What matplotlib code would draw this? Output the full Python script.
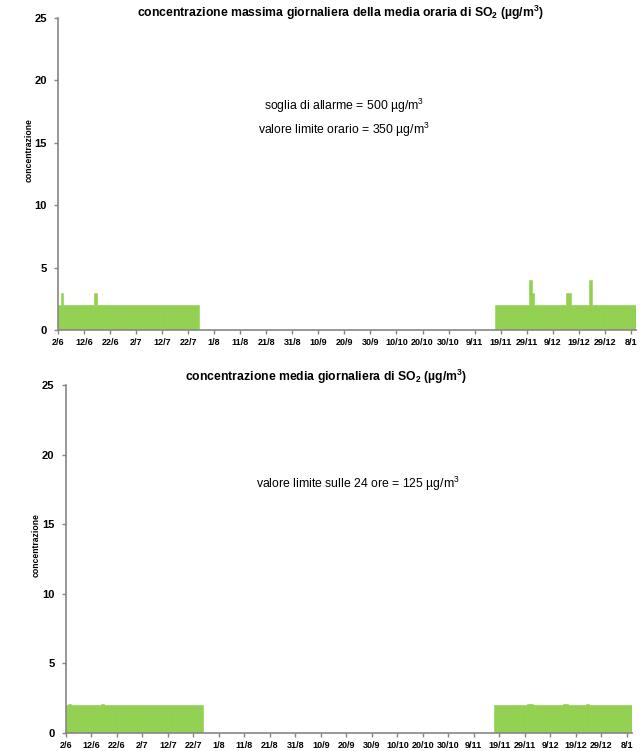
import matplotlib
matplotlib.use("Agg")
import matplotlib.pyplot as plt
import numpy as np
import pandas as pd

plt.rcParams['font.family'] = ['Liberation Sans', 'DejaVu Sans']
plt.rcParams['mathtext.fontset'] = 'custom'
plt.rcParams['mathtext.rm'] = 'Liberation Sans'
plt.rcParams['mathtext.it'] = 'Liberation Sans:italic'
plt.rcParams['mathtext.bf'] = 'Liberation Sans:bold'

# ---- data ----
start_date = "2023-06-02"
seg1_start = "2023-06-02"   # first block of measurements
seg2_start = "2023-11-17"   # second block of measurements

max_seg1 = [2, 3, 2, 2, 2, 2, 2, 2, 2, 2,
            2, 2, 2, 2, 3, 2, 2, 2, 2, 2,
            2, 2, 2, 2, 2, 2, 2, 2, 2, 2,
            2, 2, 2, 2, 2, 2, 2, 2, 2, 2,
            2, 2, 2, 2, 2, 2, 2, 2, 2, 2,
            2, 2, 2, 2]
max_seg2 = [2, 2, 2, 2, 2, 2, 2, 2, 2, 2,
            2, 2, 2, 4, 3, 2, 2, 2, 2, 2,
            2, 2, 2, 2, 2, 2, 2, 3, 3, 2,
            2, 2, 2, 2, 2, 2, 4, 2, 2, 2,
            2, 2, 2, 2, 2, 2, 2, 2, 2, 2,
            2, 2, 2, 2]
mean_seg1 = [2.0, 2.1, 2.0, 2.0, 2.0, 2.0, 2.0, 2.0, 2.0, 2.0,
             2.0, 2.0, 2.0, 2.0, 2.1, 2.0, 2.0, 2.0, 2.0, 2.0,
             2.0, 2.0, 2.0, 2.0, 2.0, 2.0, 2.0, 2.0, 2.0, 2.0,
             2.0, 2.0, 2.0, 2.0, 2.0, 2.0, 2.0, 2.0, 2.0, 2.0,
             2.0, 2.0, 2.0, 2.0, 2.0, 2.0, 2.0, 2.0, 2.0, 2.0,
             2.0, 2.0, 2.0, 2.0]
mean_seg2 = [2.0, 2.0, 2.0, 2.0, 2.0, 2.0, 2.0, 2.0, 2.0, 2.0,
             2.0, 2.0, 2.0, 2.1, 2.1, 2.0, 2.0, 2.0, 2.0, 2.0,
             2.0, 2.0, 2.0, 2.0, 2.0, 2.0, 2.0, 2.1, 2.1, 2.0,
             2.0, 2.0, 2.0, 2.0, 2.0, 2.0, 2.1, 2.0, 2.0, 2.0,
             2.0, 2.0, 2.0, 2.0, 2.0, 2.0, 2.0, 2.0, 2.0, 2.0,
             2.0, 2.0, 2.0, 2.0]

tick_labels = ["2/6", "12/6", "22/6", "2/7", "12/7", "22/7", "1/8", "11/8",
               "21/8", "31/8", "10/9", "20/9", "30/9", "10/10", "20/10",
               "30/10", "9/11", "19/11", "29/11", "9/12", "19/12", "29/12", "8/1"]

y_ticks = [0, 5, 10, 15, 20, 25]

title_top = r"concentrazione massima giornaliera della media oraria di SO$_{\mathbf{2}}$ (µg/m$^{\mathbf{3}}$)"
title_bot = r"concentrazione media giornaliera di SO$_{\mathbf{2}}$ (µg/m$^{\mathbf{3}}$)"
notes_top = [r"soglia di allarme = 500 µg/m$^{\mathrm{3}}$", r"valore limite orario = 350 µg/m$^{\mathrm{3}}$"]
notes_bot = [r"valore limite sulle 24 ore = 125 µg/m$^{\mathrm{3}}$"]

GREEN = "#92D050"
GRAY = "#868686"

t0 = pd.Timestamp(start_date)

def day_offsets(seg_start, n):
    d = pd.date_range(seg_start, periods=n, freq="D")
    return np.array((d - t0).days, dtype=float)

W, H = 642, 751
fig = plt.figure(figsize=(W / 100, H / 100), dpi=100)

def make_ax(left_px, right_px, top_px, bottom_px):
    return fig.add_axes([left_px / W, 1 - bottom_px / H,
                         (right_px - left_px) / W, (bottom_px - top_px) / H])

ax1 = make_ax(58, 636, 18, 330)
ax2 = make_ax(65.7, 632, 385, 733)

def draw(ax, s1, s2):
    for seg_start, vals in ((seg1_start, s1), (seg2_start, s2)):
        x = day_offsets(seg_start, len(vals))
        ax.bar(x, vals, width=1.0, align='edge', color=GREEN,
               edgecolor=GREEN, linewidth=0.4)
    ax.set_xlim(0, 222)
    ax.set_ylim(0, 25)
    ax.set_yticks(y_ticks)
    ax.set_yticklabels([str(v) for v in y_ticks], fontsize=8, fontweight='bold')
    xt = np.arange(len(tick_labels)) * 10
    ax.set_xticks(xt)
    ax.set_xticklabels(tick_labels, fontsize=6.5, fontweight='bold')
    for s in ("top", "right"):
        ax.spines[s].set_visible(False)
    for s in ("left", "bottom"):
        ax.spines[s].set_color(GRAY)
        ax.spines[s].set_linewidth(1.2)
    ax.tick_params(axis='both', colors=GRAY, labelcolor='black', length=3, width=1, direction='out')
    ax.tick_params(axis='x', pad=3)
    ax.tick_params(axis='y', pad=5)

draw(ax1, max_seg1, max_seg2)
draw(ax2, mean_seg1, mean_seg2)

fig.text(340 / W, 1 - 13 / H, title_top, ha='center', va='center', fontsize=8.8, fontweight='bold')
fig.text(326 / W, 1 - 377 / H, title_bot, ha='center', va='center', fontsize=8.8, fontweight='bold')

fig.text(344 / W, 1 - 106 / H, notes_top[0], ha='center', va='center', fontsize=8.8)
fig.text(344 / W, 1 - 130 / H, notes_top[1], ha='center', va='center', fontsize=8.8)
fig.text(358 / W, 1 - 484 / H, notes_bot[0], ha='center', va='center', fontsize=8.8)

fig.text(29 / W, 1 - 150 / H, "concentrazione", rotation=90, ha='center', va='center',
         fontsize=6.2, fontweight='bold')
fig.text(36 / W, 1 - 545 / H, "concentrazione", rotation=90, ha='center', va='center',
         fontsize=6.2, fontweight='bold')

fig.savefig("out.png", dpi=100)
